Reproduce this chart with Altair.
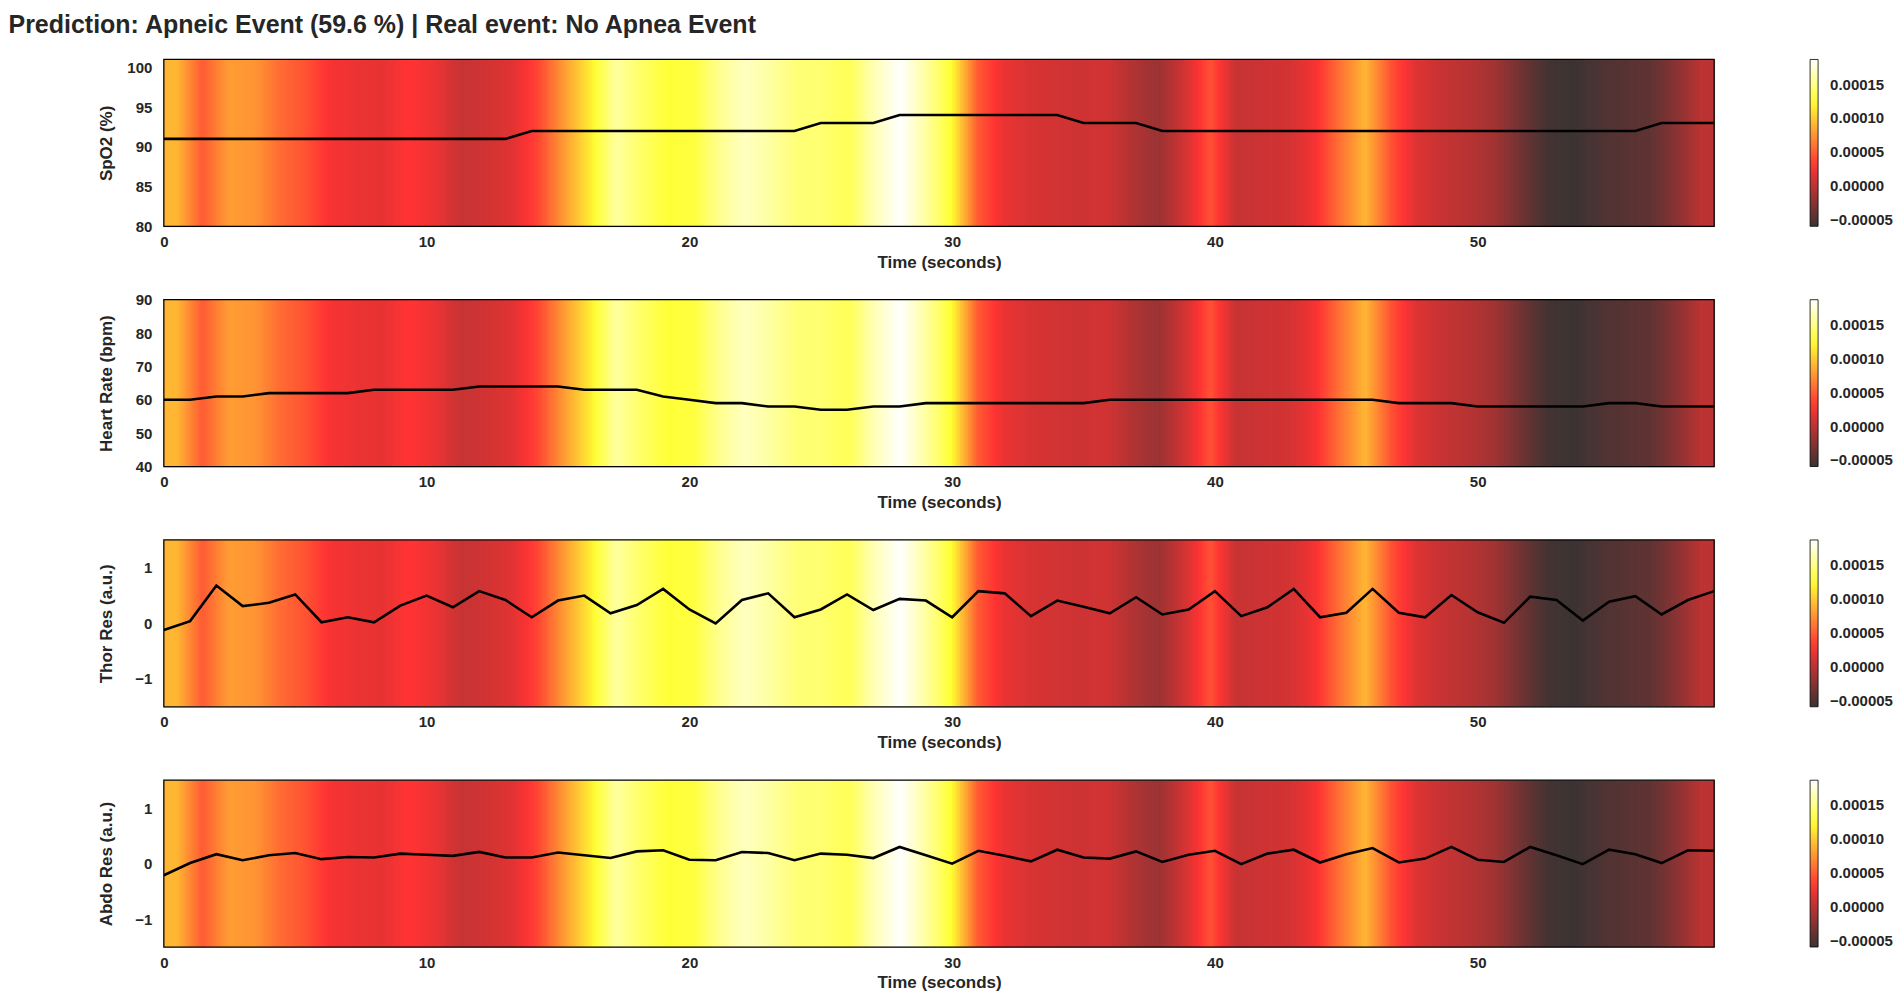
import altair as alt
import pandas as pd

TITLE = "Prediction: Apneic Event (59.6 %) | Real event: No Apnea Event"
FONT = "Liberation Sans, Arial, sans-serif"
TEXT = "#262626"

# time axis (seconds)
time_s = list(range(60))

spo2 = [91, 91, 91, 91, 91, 91, 91, 91, 91, 91, 91, 91, 91, 91,
        92, 92, 92, 92, 92, 92, 92, 92, 92, 92, 92,
        93, 93, 93,
        94, 94, 94, 94, 94, 94, 94,
        93, 93, 93,
        92, 92, 92, 92, 92, 92, 92, 92, 92, 92, 92, 92, 92, 92, 92, 92, 92, 92, 92,
        93, 93, 93]

heart_rate = [60, 60, 61, 61, 62, 62, 62, 62, 63, 63, 63, 63, 64, 64, 64, 64,
              63, 63, 63, 61, 60, 59, 59, 58, 58, 57, 57, 58, 58,
              59, 59, 59, 59, 59, 59, 59,
              60, 60, 60, 60, 60, 60, 60, 60, 60, 60, 60,
              59, 59, 59, 58, 58, 58, 58, 58, 59, 59, 58, 58, 58]

thor_res = [-0.12, 0.04, 0.68, 0.31, 0.37, 0.52, 0.02, 0.11, 0.02, 0.32,
            0.50, 0.29, 0.58, 0.42, 0.11, 0.41, 0.50, 0.18, 0.33, 0.62,
            0.25, 0.00, 0.42, 0.54, 0.11, 0.25, 0.52, 0.24, 0.44, 0.41,
            0.11, 0.58, 0.54, 0.13, 0.41, 0.30, 0.18, 0.47, 0.16, 0.25,
            0.58, 0.13, 0.29, 0.62, 0.11, 0.19, 0.62, 0.19, 0.11, 0.51,
            0.20, 0.01, 0.48, 0.42, 0.05, 0.39, 0.49, 0.16, 0.42, 0.58]

abdo_res = [-0.21, 0.01, 0.17, 0.06, 0.15, 0.19, 0.08, 0.12, 0.11, 0.18,
            0.16, 0.14, 0.21, 0.11, 0.11, 0.20, 0.15, 0.10, 0.22, 0.24,
            0.07, 0.06, 0.21, 0.19, 0.06, 0.18, 0.16, 0.10, 0.30, 0.15,
            0.00, 0.23, 0.14, 0.04, 0.25, 0.11, 0.09, 0.22, 0.03, 0.16,
            0.23, -0.01, 0.18, 0.25, 0.02, 0.17, 0.28, 0.02, 0.09, 0.30,
            0.07, 0.03, 0.30, 0.15, -0.01, 0.25, 0.17, 0.01, 0.24, 0.23]

# attribution (saliency) value per time step
heat = [9.1e-05, 4.9e-05, 7.9e-05, 7.6e-05, 5.7e-05, 4.5e-05, 2.7e-05, 2.2e-05, 2.0e-05, 3.2e-05,
        2.2e-05, 0.5e-05, 1.0e-05, 1.7e-05, 4.0e-05, 7.9e-05, 11.6e-05, 15.8e-05, 14.0e-05, 12.6e-05,
        12.8e-05, 15.3e-05, 16.8e-05, 15.8e-05, 14.5e-05, 14.3e-05, 13.5e-05, 16.5e-05, 18.7e-05, 15.8e-05,
        12.3e-05, 4.9e-05, 2.2e-05, 1.3e-05, 1.0e-05, 0.8e-05, 1.0e-05, -0.5e-05, -1.5e-05, 1.0e-05,
        4.5e-05, 0.5e-05, 0.8e-05, 1.0e-05, 2.5e-05, 5.9e-05, 9.1e-05, 4.5e-05, 1.5e-05, 0.5e-05,
        -0.2e-05, -1.2e-05, -3.4e-05, -5.4e-05, -5.9e-05, -5.1e-05, -4.6e-05, -4.2e-05, -2.4e-05, 0.0]

panels = [
    ("SpO2 (%)", spo2, [80, 101], [80, 85, 90, 95, 100]),
    ("Heart Rate (bpm)", heart_rate, [40, 90], [40, 50, 60, 70, 80, 90]),
    ("Thor Res (a.u.)", thor_res, [-1.5, 1.5], [-1, 0, 1]),
    ("Abdo Res (a.u.)", abdo_res, [-1.5, 1.5], [-1, 0, 1]),
]
x_ticks = [0, 10, 20, 30, 40, 50]
cbar_ticks = [-0.00005, 0.0, 0.00005, 0.00010, 0.00015]

W, H = 1552, 167
T_END = 59
N = len(heat)
STEP = 0.1

vmin, vmax = min(heat), max(heat)
rng = vmax - vmin
# matplotlib "hot" colormap, drawn at alpha 0.8 over white
cscale = alt.Scale(
    domain=[vmin, vmin + 0.365 * rng, vmin + 0.746 * rng, vmax],
    range=["#3b3333", "#ff3333", "#ffff33", "#ffffff"],
    interpolate="rgb",
)
xscale = alt.Scale(domain=[0, T_END], nice=False, zero=False)

heat_df = pd.DataFrame({"i": list(range(N)), "v": heat})
grid = alt.sequence(0, int(round(T_END / STEP)), 1, as_="k")
frame_df = pd.DataFrame({"frame": [1]})


def panel(label, values, ydom, yticks):
    yscale = alt.Scale(domain=ydom, nice=False, zero=False)
    xaxis = alt.Axis(values=x_ticks, title="Time (seconds)", grid=False, ticks=False,
                     tickSize=0, domain=False, labelFlush=False, format="d",
                     labelOverlap=False, labelBound=False, tickCount=len(x_ticks),
                     labelFontSize=15, labelFontWeight="bold", labelPadding=8,
                     titleFontSize=17, titleFontWeight="bold", titlePadding=5,
                     labelColor=TEXT, titleColor=TEXT, labelFont=FONT, titleFont=FONT)
    yaxis = alt.Axis(values=yticks, title=label, grid=False, ticks=False, tickSize=0,
                     domain=False, format="d", labelOverlap=False, labelBound=False,
                     tickCount=len(yticks),
                     labelFontSize=15, labelFontWeight="bold",
                     labelPadding=12, titleFontSize=17, titleFontWeight="bold",
                     titlePadding=8, minExtent=40, maxExtent=40,
                     labelColor=TEXT, titleColor=TEXT, labelFont=FONT, titleFont=FONT)

    heat_layer = (
        alt.Chart(grid)
        .transform_calculate(t0=f"datum.k*{STEP}")
        .transform_calculate(t1=f"datum.t0+{STEP * 1.3}")
        .transform_calculate(p=f"clamp((datum.t0+{STEP / 2})*{N}/{T_END}-0.5, 0, {N - 1})")
        .transform_calculate(i0="floor(datum.p)")
        .transform_calculate(i1=f"min(datum.i0+1, {N - 1})")
        .transform_calculate(f="datum.p-datum.i0")
        .transform_lookup(lookup="i0", from_=alt.LookupData(heat_df, "i", ["v"]), as_=["v0"])
        .transform_lookup(lookup="i1", from_=alt.LookupData(heat_df, "i", ["v"]), as_=["v1"])
        .transform_calculate(heat="datum.v0+datum.f*(datum.v1-datum.v0)")
        .mark_rect(clip=True, strokeWidth=0)
        .encode(
            x=alt.X("t0:Q", scale=xscale, axis=xaxis),
            x2="t1:Q",
            y=alt.Y(datum=ydom[0], type="quantitative", scale=yscale, axis=yaxis),
            y2=alt.datum(ydom[1]),
            color=alt.Color(
                "heat:Q", scale=cscale,
                legend=alt.Legend(
                    title=None, values=cbar_ticks, format=".5f", orient="right",
                    direction="vertical", gradientLength=H, gradientThickness=8,
                    gradientStrokeColor="black", gradientStrokeWidth=0.8,
                    labelFontSize=15, labelFontWeight="bold", labelOffset=12,
                    labelColor=TEXT, labelFont=FONT, labelOverlap=False, offset=96,
                ),
            ),
        )
    )
    line_df = pd.DataFrame({"t": time_s, "val": values})
    line_layer = (
        alt.Chart(line_df)
        .mark_line(color="black", strokeWidth=2.6, clip=True)
        .encode(x=alt.X("t:Q", scale=xscale, axis=xaxis),
                y=alt.Y("val:Q", scale=yscale, axis=yaxis))
    )
    frame_layer = (
        alt.Chart(frame_df)
        .mark_rect(filled=False, stroke="black", strokeWidth=1.3)
        .encode(
            x=alt.X(datum=0, type="quantitative", scale=xscale, axis=xaxis),
            x2=alt.datum(T_END),
            y=alt.Y(datum=ydom[0], type="quantitative", scale=yscale, axis=yaxis),
            y2=alt.datum(ydom[1]),
        )
    )
    return alt.layer(heat_layer, line_layer, frame_layer).properties(width=W, height=H)


chart = (
    alt.vconcat(*[panel(*p) for p in panels], spacing=73.5, bounds="flush")
    .resolve_scale(color="independent")
    .resolve_legend(color="independent")
    .properties(
        title=alt.TitleParams(text=TITLE, anchor="start", frame="bounds", fontSize=25,
                              fontWeight="bold", color=TEXT, font=FONT, offset=20, dx=-89),
        padding={"left": 0, "top": 4, "right": 0, "bottom": 0},
    )
    .configure_view(stroke="black", strokeWidth=1.2)
    .configure(background="white")
)

chart.save("out.html", embed_options={"renderer": "svg", "actions": False})
